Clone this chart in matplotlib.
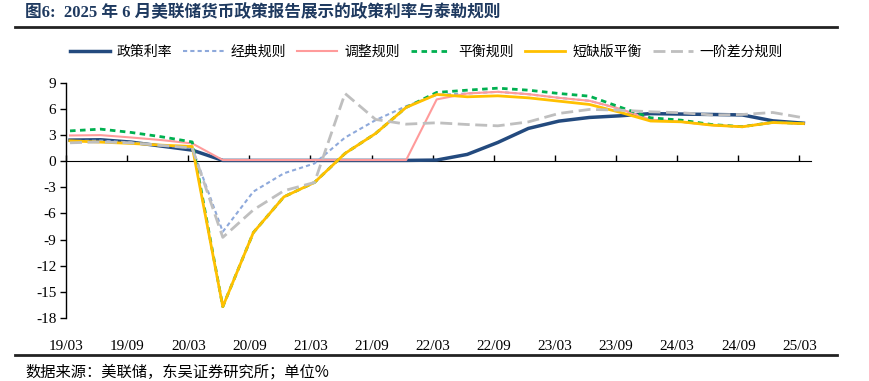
import matplotlib
matplotlib.use("Agg")
import matplotlib.pyplot as plt
from matplotlib.lines import Line2D

plt.rcParams["font.family"] = ["Liberation Serif", "Noto Sans CJK SC", "DejaVu Sans"]
plt.rcParams["axes.unicode_minus"] = False

# quarterly observations, 19Q1 .. 25Q1
quarters = list(range(25))
tick_labels = ["19/03", "19/09", "20/03", "20/09", "21/03", "21/09", "22/03",
               "22/09", "23/03", "23/09", "24/03", "24/09", "25/03"]

policy_rate = [2.41, 2.45, 2.18, 1.72, 1.26, 0.08, 0.08, 0.08, 0.08, 0.08, 0.08, 0.08, 0.12,
               0.77, 2.14, 3.75, 4.59, 5.01, 5.2, 5.45, 5.4, 5.35, 5.3, 4.62, 4.35]
classic_rule = [2.3, 2.35, 2.15, 1.8, 1.5, -8.1, -3.5, -1.4, -0.27, 2.7, 4.7, 6.3, 7.6,
                7.76, 7.95, 7.68, 7.26, 6.92, 6.0, 4.75, 4.51, 4.13, 3.97, 4.43, 4.33]
adjusted_rule = [2.94, 2.98, 2.71, 2.41, 2.03, 0.12, 0.12, 0.12, 0.12, 0.12, 0.12, 0.12, 7.08,
                 7.76, 7.95, 7.68, 7.26, 6.92, 6.0, 4.75, 4.51, 4.13, 3.97, 4.43, 4.33]
balanced_rule = [3.47, 3.67, 3.29, 2.79, 2.2, -16.7, -8.2, -4.1, -2.45, 0.88, 3.17, 6.16, 7.88,
                 8.14, 8.37, 8.14, 7.76, 7.45, 6.2, 4.97, 4.7, 4.2, 3.95, 4.45, 4.33]
shortfall_balanced = [2.33, 2.18, 2.03, 1.83, 1.68, -16.7, -8.2, -4.1, -2.45, 0.88, 3.17, 6.16, 7.65,
                      7.38, 7.49, 7.26, 6.88, 6.5, 5.6, 4.6, 4.51, 4.13, 3.94, 4.43, 4.3]
first_diff_rule = [2.1, 2.2, 2.1, 1.8, 1.5, -8.75, -5.6, -3.4, -2.45, 7.76, 4.78, 4.24, 4.4,
                   4.2, 4.05, 4.5, 5.47, 5.93, 5.85, 5.66, 5.55, 5.3, 5.35, 5.58, 4.97]

fig = plt.figure(figsize=(8.7, 3.81), dpi=100)
ax = fig.add_axes([0.0759, 0.1654, 0.8563, 0.6176])

ax.plot(quarters, policy_rate, color="#234A7E", lw=2.5, label="政策利率")
ax.plot(quarters, classic_rule, color="#8EA9DB", lw=1.5, dashes=(2, 1.5), label="经典规则")
ax.plot(quarters, adjusted_rule, color="#FF9B9B", lw=1.5, label="调整规则")
ax.plot(quarters, balanced_rule, color="#00B050", lw=2, dashes=(2, 1.6), label="平衡规则")
ax.plot(quarters, shortfall_balanced, color="#FFC000", lw=2, label="短缺版平衡")
ax.plot(quarters, first_diff_rule, color="#BFBFBF", lw=2, dashes=(4.3, 2), label="一阶差分规则")

ax.set_xlim(-0.13, 24.25)
ax.set_ylim(-18, 9)
ax.set_yticks(range(-18, 10, 3))

tick_pos = [2 * k - 0.13 for k in range(13)]
ax.set_xticks(tick_pos)
ax.set_xticklabels(tick_labels)
ax.tick_params(axis="x", length=0, pad=16, labelsize=11)
ax.tick_params(axis="y", direction="out", length=4, width=1, labelsize=11, pad=3)

for side in ["top", "right", "bottom"]:
    ax.spines[side].set_visible(False)
ax.spines["left"].set_linewidth(1)

# zero line carries the tick marks
zero_axis = ax.secondary_xaxis(2 / 3)
zero_axis.set_xticks(tick_pos)
zero_axis.set_xticklabels([])
zero_axis.tick_params(direction="out", length=4, width=1)
zero_axis.spines["bottom"].set_linewidth(1.2)

for lab in ax.get_xticklabels() + ax.get_yticklabels():
    lab.set_family("Liberation Serif")

fig.legend(loc="center", bbox_to_anchor=(0.49, 0.864), ncol=6, frameon=False,
           prop={"family": "Noto Sans CJK SC", "size": 10},
           handlelength=2.9, handletextpad=0.5, columnspacing=0.8)

fig.text(0.029, 0.966, "图6:  2025 年 6 月美联储货币政策报告展示的政策利率与泰勒规则",
         fontsize=12, fontweight="bold", color="#1F3A60", va="center", ha="left",
         family=["Liberation Serif", "Noto Sans CJK SC"])
fig.add_artist(Line2D([0.017, 0.962], [0.929, 0.929], color="#222222", lw=2))
fig.add_artist(Line2D([0.017, 0.962], [0.068, 0.068], color="#222222", lw=2))
fig.text(0.029, 0.024, "数据来源：美联储，东吴证券研究所；单位%", fontsize=11,
         va="center", ha="left", family=["Noto Sans CJK SC", "DejaVu Sans"])

plt.savefig("out.png", dpi=100)
